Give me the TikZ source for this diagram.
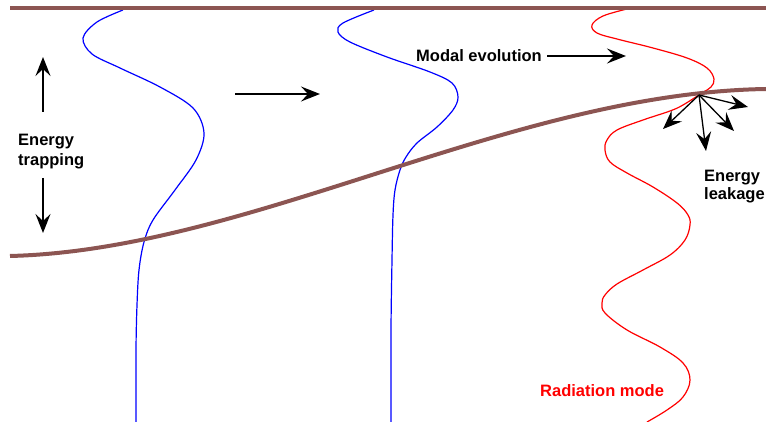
\documentclass[tikz,border=0pt]{standalone}
\usepackage{fontspec}
\setmainfont{Liberation Sans}
\usetikzlibrary{arrows.meta}
\definecolor{wallc}{RGB}{140,85,82}
\begin{document}
\begin{tikzpicture}[x=1pt,y=-1pt,
  wall/.style={draw=wallc,line width=4pt},
  bluemode/.style={draw=blue,line width=1.2pt},
  redmode/.style={draw=red,line width=1.2pt},
  lbl/.style={font=\bfseries\fontsize{16.5}{20}\selectfont,inner sep=0pt,anchor=base west},
  arr/.style={-{Stealth[length=19pt 0,width=15pt 0,inset=7pt 0]},line width=1.3pt}]
\useasboundingbox (0,0) rectangle (766,422);
% modes
\draw[bluemode] plot[smooth,tension=0.55] coordinates {(123,10)(97,22)(83,38)(92,54)(120,68)(160,87)(193,108)(204,133)(196,160)(175,190)(153,220)(144,242)(139,270)(137,305)(136,350)(136,422)};
\draw[bluemode] plot[smooth,tension=0.55] coordinates {(374,10)(343,23)(338,32)(350,42)(387,57)(430,72)(452,83)(458,97)(453,110)(437,127)(417,143)(406,157)(400,170)(395,190)(393,215)(392,260)(391,330)(391,422)};
\draw[redmode] plot[smooth,tension=0.6] coordinates {(627,9)(603,16)(592,25)(597,33)(617,39)(653,48)(687,58)(707,68)(714,79)(711,87)(702,93)(683,105)(670,111)(643,120)(617,130)(607,140)(605,150)(610,162)(627,173)(653,187)(677,203)(688,215)(690,225)(685,240)(670,255)(643,270)(617,284)(605,295)(602,303)(605,313)(627,330)(660,347)(683,363)(690,380)(683,397)(667,410)(647,422)};
% walls
\coordinate (tl) at (10,8.5);
\coordinate (tr) at (766,8.5);
\draw[wall] (tl) -- (tr);
\coordinate (bl) at (10,256);
\coordinate (br) at (766,89);
\draw[wall] (bl) .. controls (250,250) and (510,93) .. (br);
% energy trapping
\node[lbl] (et1) at (18,146) {Energy};
\node[lbl] (et2) at (18,166) {trapping};
\coordinate (up0) at (43,112);
\coordinate (up1) at (43,57);
\coordinate (dn0) at (43,178);
\coordinate (dn1) at (43,233);
\draw[arr] (up0) -- (up1);
\draw[arr] (dn0) -- (dn1);
% propagation arrow
\coordinate (pa0) at (235,94);
\coordinate (pa1) at (320,94);
\draw[arr] (pa0) -- (pa1);
% modal evolution
\node[lbl] (me) at (416,61.5) {Modal evolution};
\coordinate (me0) at (547,56);
\coordinate (me1) at (626,56);
\draw[arr] (me0) -- (me1);
% energy leakage
\coordinate (lk) at (699,95);
\coordinate (lk1) at (748,107);
\coordinate (lk2) at (734,131);
\coordinate (lk3) at (706,151);
\coordinate (lk4) at (663,129);
\foreach \t in {lk1,lk2,lk3,lk4} \draw[arr] (lk) -- (\t);
\node[lbl] (el1) at (704,182) {Energy};
\node[lbl] (el2) at (704,200) {leakage};
% radiation mode
\node[lbl,text=red] (rm) at (540,396) {Radiation mode};
\end{tikzpicture}
\end{document}
